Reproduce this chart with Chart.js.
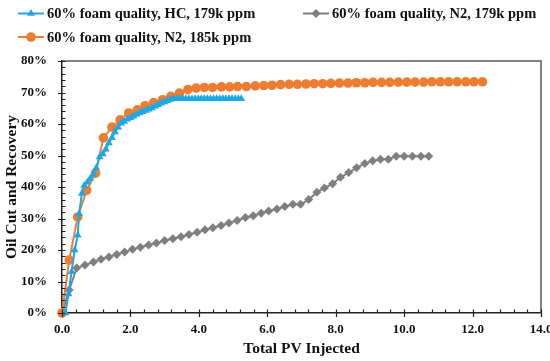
<!DOCTYPE html>
<html>
<head>
<meta charset="utf-8">
<script src="https://cdn.jsdelivr.net/npm/chart.js@4.4.1/dist/chart.umd.min.js"></script>
<style>
  html, body { margin: 0; padding: 0; background: #fff; }
  #wrap { width: 550px; height: 361px; }
</style>
</head>
<body>
<div id="wrap"><canvas id="foamChart"></canvas></div>
<script>
// --- data (Total PV injected vs. oil cut %) ---
const hcX = [0.10, 0.19, 0.28, 0.37, 0.46, 0.50, 0.58, 0.65, 0.74, 0.82, 0.91, 1.00, 1.10, 1.19, 1.28, 1.37, 1.46,
  1.55, 1.64, 1.73, 1.82, 1.91, 2.00, 2.09, 2.18, 2.27, 2.36, 2.45, 2.54, 2.63, 2.72, 2.81, 2.90, 2.99, 3.08,
  3.17, 3.26, 3.35, 3.44, 3.53, 3.62, 3.71, 3.80, 3.89, 3.98, 4.07, 4.16, 4.25, 4.34, 4.43, 4.52, 4.61, 4.70,
  4.79, 4.88, 4.97, 5.06, 5.15, 5.24];
const hcY = [0, 6.0, 13.1, 20.0, 24.7, 31.5, 37.9, 40.5, 41.5, 42.6, 44.0, 46.0, 49.5, 50.5, 52.0, 54.0, 55.6,
  57.5, 59.0, 60.2, 60.8, 61.5, 62.0, 62.5, 63.0, 63.5, 63.9, 64.3, 64.7, 65.1, 65.6, 66.1, 66.6, 67.0, 67.4,
  67.8, 68.0, 68.0, 68.0, 68.0, 68.0, 68.0, 68.0, 68.0, 68.0, 68.0, 68.0, 68.0, 68.0, 68.0, 68.0, 68.0, 68.0,
  68.0, 68.0, 68.0, 68.0, 68.0, 68.0];

const n2lowX = [0, 0.21, 0.43, 0.67, 0.92, 1.14, 1.37, 1.60, 1.83, 2.06, 2.29, 2.53, 2.76, 3.00, 3.24, 3.48,
  3.71, 3.95, 4.18, 4.41, 4.65, 4.88, 5.12, 5.36, 5.59, 5.82, 6.04, 6.28, 6.51, 6.75, 6.97, 7.21, 7.45, 7.67,
  7.91, 8.14, 8.38, 8.61, 8.85, 9.08, 9.31, 9.54, 9.77, 10.00, 10.24, 10.49, 10.72];
const n2lowY = [0, 7.3, 14.3, 15.2, 16.2, 17.1, 17.8, 18.6, 19.4, 20.2, 20.9, 21.6, 22.2, 23.0, 23.6, 24.2,
  24.9, 25.6, 26.4, 27.1, 27.8, 28.6, 29.4, 30.3, 30.9, 31.7, 32.4, 33.0, 33.8, 34.5, 34.5, 36.0, 38.3, 39.7,
  41.0, 43.1, 44.6, 46.1, 47.5, 48.3, 48.8, 48.8, 49.8, 49.8, 49.8, 49.8, 49.8];

const n2highX = [0, 0.21, 0.46, 0.72, 0.98, 1.21, 1.46, 1.70, 1.95, 2.20, 2.43, 2.68, 2.94, 3.18, 3.43, 3.68,
  3.92, 4.16, 4.40, 4.66, 4.90, 5.13, 5.39, 5.65, 5.90, 6.14, 6.39, 6.64, 6.88, 7.13, 7.37, 7.62, 7.86, 8.11,
  8.36, 8.60, 8.85, 9.09, 9.34, 9.58, 9.83, 10.08, 10.32, 10.57, 10.81, 11.06, 11.30, 11.55, 11.80, 12.04, 12.29];
const n2highY = [0, 16.8, 30.5, 38.9, 44.4, 55.6, 59.0, 61.3, 63.5, 64.5, 65.8, 66.8, 67.7, 68.8, 69.8, 70.9,
  71.4, 71.6, 71.6, 71.8, 71.8, 71.9, 71.9, 72.1, 72.2, 72.3, 72.5, 72.6, 72.6, 72.7, 72.8, 72.8, 72.9, 73.0,
  73.0, 73.1, 73.1, 73.2, 73.2, 73.2, 73.3, 73.3, 73.3, 73.3, 73.4, 73.4, 73.4, 73.4, 73.4, 73.4, 73.4];

const seriesNames = ["60% foam quality, HC, 179k ppm", "60% foam quality, N2, 179k ppm", "60% foam quality, N2, 185k ppm"];
const xTicks = [0, 2, 4, 6, 8, 10, 12, 14];
const yTicks = [0, 10, 20, 30, 40, 50, 60, 70, 80];

const BLUE = "#1ca8e6";
const GRAY = "#7f7f7f";
const ORANGE = "#ed7d31";
const FONT = "'Liberation Serif', 'DejaVu Serif', serif";

const toPoints = (xs, ys) => xs.map((x, i) => ({ x, y: ys[i] }));

// frame + crossing major ticks + minor ticks (Excel look)
const axisTicks = {
  id: "axisTicks",
  afterDraw(chart) {
    const { ctx, chartArea: { left, right, top, bottom }, scales: { x, y } } = chart;
    ctx.save();
    ctx.strokeStyle = "#595959";
    ctx.lineWidth = 1.5;
    ctx.beginPath();
    ctx.moveTo(left, top); ctx.lineTo(right, top); ctx.lineTo(right, bottom);
    ctx.stroke();

    ctx.strokeStyle = "#222";
    ctx.lineWidth = 1.2;
    ctx.beginPath();
    for (let i = 0; i <= 35; i++) {
      const px = Math.round(x.getPixelForValue(i * 0.4)) + 0.5;
      const major = i % 5 === 0;
      ctx.moveTo(px, bottom - 3.5);
      ctx.lineTo(px, major ? bottom + 4 : bottom);
    }
    for (let i = 0; i <= 40; i++) {
      const py = Math.round(y.getPixelForValue(i * 2)) + 0.5;
      const major = i % 5 === 0;
      ctx.moveTo(left + 3.5, py);
      ctx.lineTo(major ? left - 4 : left, py);
    }
    ctx.stroke();
    ctx.restore();
  }
};

// legend drawn like the spreadsheet one: line with marker, text on the right
const lineLegend = {
  id: "lineLegend",
  afterDraw(chart) {
    const { ctx } = chart;
    const slots = [
      { x: 18, y: 13.5 },
      { x: 303, y: 13.5 },
      { x: 18, y: 37 }
    ];
    ctx.save();
    ctx.font = "bold 14.5px " + FONT;
    ctx.textBaseline = "middle";
    chart.data.datasets.forEach((ds, i) => {
      const s = slots[i];
      ctx.strokeStyle = ds.borderColor;
      ctx.fillStyle = ds.backgroundColor;
      ctx.lineWidth = 2;
      ctx.beginPath();
      ctx.moveTo(s.x, s.y);
      ctx.lineTo(s.x + 26, s.y);
      ctx.stroke();
      Chart.helpers.drawPoint(ctx, {
        pointStyle: ds.pointStyle,
        radius: ds.pointRadius,
        borderWidth: 0
      }, s.x + 13, s.y);
      ctx.fillStyle = "#111";
      ctx.fillText(ds.label, s.x + 29, s.y + 1);
    });
    ctx.restore();
  }
};

const ctx = document.getElementById("foamChart").getContext("2d");

new Chart(ctx, {
  type: "scatter",
  data: {
    datasets: [
      {
        label: seriesNames[0],
        data: toPoints(hcX, hcY),
        showLine: true,
        borderColor: BLUE,
        backgroundColor: BLUE,
        borderWidth: 2,
        pointStyle: "triangle",
        pointRadius: 4.5,
        pointBorderWidth: 0,
        clip: false,
        order: 1
      },
      {
        label: seriesNames[1],
        data: toPoints(n2lowX, n2lowY),
        showLine: true,
        borderColor: GRAY,
        backgroundColor: GRAY,
        borderWidth: 2,
        pointStyle: "rectRot",
        pointRadius: 4.5,
        pointBorderWidth: 0,
        clip: false,
        order: 3
      },
      {
        label: seriesNames[2],
        data: toPoints(n2highX, n2highY),
        showLine: true,
        borderColor: ORANGE,
        backgroundColor: ORANGE,
        borderWidth: 2,
        pointStyle: "circle",
        pointRadius: 4.8,
        pointBorderWidth: 0,
        clip: false,
        order: 2
      }
    ]
  },
  options: {
    responsive: true,
    maintainAspectRatio: false,
    animation: false,
    layout: { padding: { top: 61, right: 9, left: 0, bottom: 0 } },
    plugins: {
      legend: { display: false },
      tooltip: { enabled: false }
    },
    scales: {
      x: {
        type: "linear",
        min: 0,
        max: 14,
        afterBuildTicks: (s) => { s.ticks = xTicks.map(v => ({ value: v })); },
        afterFit: (s) => { s.height = 48; s.paddingRight = 0; s.paddingLeft = 0; },
        grid: { display: false, drawTicks: false },
        border: { display: true, color: "#222", width: 1.5 },
        ticks: {
          padding: 9,
          color: "#111",
          font: { family: FONT, size: 13, weight: "bold" },
          callback: (v) => Number(v).toFixed(1)
        },
        title: {
          display: true,
          text: "Total PV Injected",
          color: "#111",
          padding: { top: 2, bottom: 3 },
          font: { family: FONT, size: 15.5, weight: "bold" }
        }
      },
      y: {
        min: 0,
        max: 80,
        afterBuildTicks: (s) => { s.ticks = yTicks.map(v => ({ value: v })); },
        afterFit: (s) => { s.width = 62; s.paddingTop = 0; s.paddingBottom = 0; },
        grid: { display: false, drawTicks: false },
        border: { display: true, color: "#222", width: 1.5 },
        ticks: {
          padding: 15,
          color: "#111",
          font: { family: FONT, size: 13, weight: "bold" },
          callback: (v) => v + "%"
        },
        title: {
          display: true,
          text: "Oil Cut and Recovery",
          color: "#111",
          padding: { top: 3, bottom: 2 },
          font: { family: FONT, size: 15.5, weight: "bold" }
        }
      }
    }
  },
  plugins: [axisTicks, lineLegend]
});
</script>
</body>
</html>
